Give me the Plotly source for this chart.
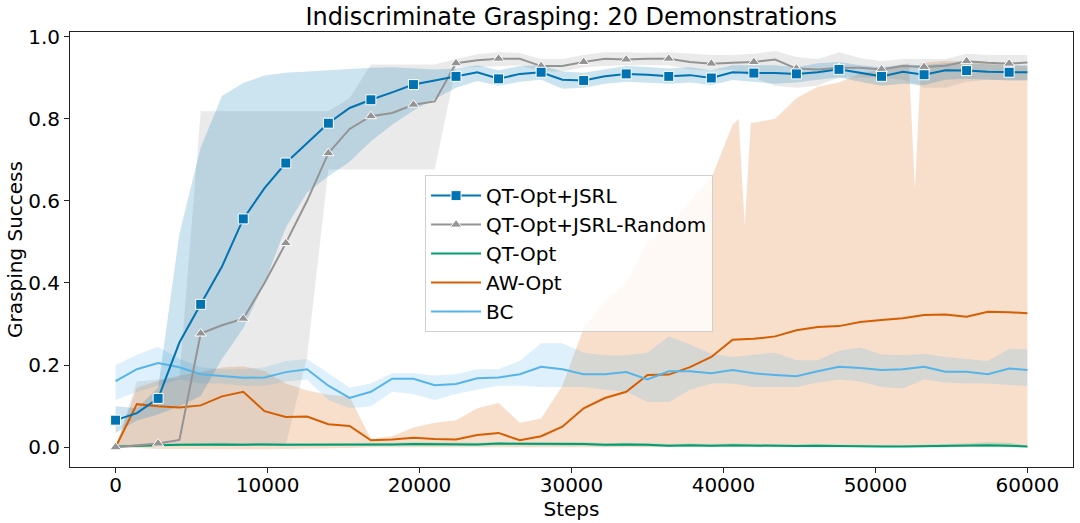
import plotly.graph_objects as go

# ---------------- data ----------------
steps = list(range(0, 58801, 1400)) + [60000]   # 44 evaluation steps

jsrl_mean = [0.066, 0.083, 0.119, 0.255, 0.348, 0.44, 0.556, 0.631, 0.692, 0.741, 0.789, 0.826,
             0.846, 0.864, 0.883, 0.893, 0.903, 0.913, 0.897, 0.909, 0.913, 0.895, 0.893, 0.903,
             0.909, 0.907, 0.903, 0.906, 0.899, 0.913, 0.911, 0.911, 0.909, 0.913, 0.920, 0.911,
             0.903, 0.914, 0.907, 0.918, 0.917, 0.914, 0.913, 0.913]
jsrl_lo = [0.035, 0.065, 0.08, 0.10, 0.125, 0.215, 0.29, 0.40, 0.535, 0.62, 0.66, 0.695,
           0.745, 0.785, 0.82, 0.848, 0.875, 0.892, 0.88, 0.89, 0.895, 0.873, 0.875, 0.885,
           0.89, 0.888, 0.885, 0.888, 0.882, 0.894, 0.89, 0.885, 0.888, 0.895, 0.9, 0.89,
           0.88, 0.885, 0.882, 0.895, 0.897, 0.895, 0.893, 0.893]
jsrl_hi = [0.10, 0.095, 0.145, 0.52, 0.73, 0.855, 0.887, 0.905, 0.912, 0.915, 0.918, 0.921,
           0.924, 0.925, 0.922, 0.92, 0.922, 0.93, 0.918, 0.928, 0.93, 0.915, 0.912, 0.92,
           0.928, 0.926, 0.922, 0.925, 0.918, 0.93, 0.93, 0.93, 0.925, 0.935, 0.938, 0.93,
           0.925, 0.932, 0.93, 0.935, 0.935, 0.932, 0.93, 0.93]

rand_mean = [0.0, 0.005, 0.009, 0.018, 0.277, 0.297, 0.313, 0.40, 0.497, 0.60, 0.716, 0.775,
             0.806, 0.814, 0.834, 0.842, 0.935, 0.942, 0.946, 0.946, 0.928, 0.928, 0.938, 0.946,
             0.944, 0.946, 0.946, 0.938, 0.934, 0.936, 0.938, 0.944, 0.922, 0.920, 0.924, 0.924,
             0.920, 0.928, 0.926, 0.929, 0.94, 0.936, 0.934, 0.937]
rand_lo = [0.0, 0.0, 0.002, 0.005, 0.005, 0.003, 0.003, 0.003, 0.005, 0.22, 0.676, 0.676,
           0.676, 0.676, 0.676, 0.676, 0.925, 0.925, 0.928, 0.93, 0.915, 0.915, 0.925, 0.928,
           0.93, 0.93, 0.93, 0.92, 0.918, 0.92, 0.90, 0.88, 0.875, 0.88, 0.90, 0.90,
           0.90, 0.895, 0.875, 0.875, 0.89, 0.895, 0.895, 0.895]
rand_hi = [0.0, 0.16, 0.165, 0.17, 0.818, 0.818, 0.818, 0.818, 0.818, 0.818, 0.818, 0.85,
           0.932, 0.932, 0.932, 0.932, 0.945, 0.957, 0.962, 0.96, 0.945, 0.945, 0.955, 0.962,
           0.962, 0.96, 0.962, 0.958, 0.955, 0.955, 0.958, 0.965, 0.95, 0.945, 0.962, 0.948,
           0.94, 0.945, 0.945, 0.945, 0.958, 0.955, 0.955, 0.955]

qt_mean = [0.002, 0.004, 0.005, 0.006, 0.007, 0.007, 0.006, 0.007, 0.006, 0.006, 0.007, 0.006,
           0.007, 0.007, 0.008, 0.008, 0.007, 0.007, 0.009, 0.009, 0.009, 0.008, 0.008, 0.006,
           0.007, 0.006, 0.004, 0.005, 0.004, 0.005, 0.004, 0.004, 0.003, 0.004, 0.003, 0.003,
           0.002, 0.002, 0.003, 0.003, 0.004, 0.005, 0.004, 0.002]
qt_lo = [0.0, 0.001, 0.002, 0.003, 0.004, 0.003, 0.002, 0.003, 0.002, 0.002, 0.003, 0.002,
         0.003, 0.003, 0.004, 0.004, 0.003, 0.003, 0.005, 0.005, 0.005, 0.004, 0.004, 0.002,
         0.003, 0.002, 0.001, 0.001, 0.001, 0.001, 0.001, 0.001, 0.0, 0.001, 0.0, 0.0,
         0.0, 0.0, 0.0, 0.0, 0.001, 0.001, 0.0, 0.0]
qt_hi = [0.004, 0.007, 0.008, 0.009, 0.011, 0.011, 0.01, 0.011, 0.01, 0.01, 0.011, 0.01,
         0.011, 0.011, 0.012, 0.012, 0.011, 0.011, 0.013, 0.013, 0.013, 0.012, 0.012, 0.01,
         0.011, 0.01, 0.008, 0.009, 0.008, 0.009, 0.008, 0.008, 0.007, 0.008, 0.006, 0.006,
         0.005, 0.005, 0.006, 0.007, 0.009, 0.012, 0.011, 0.004]

aw_mean = [0.0, 0.105, 0.10, 0.097, 0.102, 0.124, 0.135, 0.088, 0.074, 0.075, 0.056, 0.052,
           0.017, 0.019, 0.023, 0.02, 0.019, 0.03, 0.035, 0.017, 0.027, 0.05, 0.095, 0.12,
           0.135, 0.176, 0.177, 0.195, 0.22, 0.262, 0.264, 0.27, 0.285, 0.293, 0.295, 0.305,
           0.31, 0.314, 0.322, 0.323, 0.318, 0.33, 0.329, 0.326]
aw_band_steps = [0, 1400, 2800, 4200, 5600, 7000, 8400, 9800, 11200, 12600, 14000, 15400,
                 16800, 18200, 19600, 21000, 22400, 23800, 25200, 26600, 28000, 29400, 30800,
                 32200, 33600, 35000, 36400, 37800, 39200, 40600, 41000, 41400, 41800, 42000,
                 43400, 44800, 46200, 47600, 49000, 50400, 51800, 52200, 52600, 53000, 53200,
                 54600, 56000, 57400, 58800, 60000]
aw_lo = [0.0, -0.002, -0.004, -0.004, -0.004, -0.004, -0.005, -0.005, -0.004, -0.004, -0.003,
         -0.002, 0.0, 0.0, 0.0, 0.0, 0.0, 0.0, 0.0, 0.0, 0.0, 0.0, 0.0, 0.0, 0.0, 0.0, 0.0,
         0.0, 0.0, 0.0, 0.0, 0.0, 0.0, 0.0, 0.0, 0.0, 0.0, 0.0, 0.0, 0.0, 0.0, 0.0, 0.0, 0.0,
         0.0, 0.0, 0.0, 0.0, 0.0, 0.0]
aw_hi = [0.0, 0.145, 0.162, 0.175, 0.183, 0.194, 0.197, 0.186, 0.155, 0.138, 0.128, 0.123,
         0.02, 0.027, 0.048, 0.06, 0.066, 0.095, 0.108, 0.06, 0.07, 0.15, 0.29, 0.355, 0.40,
         0.50, 0.535, 0.60, 0.655, 0.785, 0.80, 0.54, 0.79, 0.79, 0.80, 0.85, 0.878, 0.888,
         0.91, 0.92, 0.932, 0.935, 0.63, 0.935, 0.937, 0.941, 0.94, 0.935, 0.93, 0.927]

bc_mean = [0.161, 0.19, 0.205, 0.195, 0.178, 0.174, 0.169, 0.17, 0.183, 0.19, 0.15, 0.12,
           0.135, 0.167, 0.167, 0.151, 0.154, 0.168, 0.17, 0.178, 0.196, 0.19, 0.178, 0.178,
           0.183, 0.165, 0.185, 0.185, 0.18, 0.188, 0.18, 0.176, 0.173, 0.185, 0.196, 0.193,
           0.188, 0.19, 0.196, 0.184, 0.184, 0.178, 0.192, 0.188]
bc_lo = [0.115, 0.135, 0.15, 0.165, 0.155, 0.155, 0.15, 0.15, 0.16, 0.165, 0.115, 0.095,
         0.10, 0.135, 0.13, 0.115, 0.13, 0.14, 0.15, 0.15, 0.147, 0.147, 0.147, 0.14,
         0.135, 0.11, 0.11, 0.14, 0.155, 0.155, 0.147, 0.147, 0.147, 0.158, 0.165, 0.16,
         0.147, 0.143, 0.165, 0.158, 0.155, 0.155, 0.152, 0.149]
bc_hi = [0.20, 0.225, 0.245, 0.215, 0.195, 0.19, 0.19, 0.195, 0.21, 0.215, 0.18, 0.145,
         0.155, 0.18, 0.18, 0.175, 0.178, 0.19, 0.19, 0.21, 0.253, 0.253, 0.23, 0.224,
         0.224, 0.23, 0.27, 0.25, 0.228, 0.22, 0.225, 0.23, 0.212, 0.212, 0.235, 0.243,
         0.226, 0.224, 0.228, 0.22, 0.215, 0.21, 0.24, 0.238]

series_names = ["QT-Opt+JSRL", "QT-Opt+JSRL-Random", "QT-Opt", "AW-Opt", "BC"]
x_ticks = [0, 10000, 20000, 30000, 40000, 50000, 60000]
y_ticks = [0.0, 0.2, 0.4, 0.6, 0.8, 1.0]

# ---------------- styling ----------------
FONT = "DejaVu Sans"
FS = 20
colors = {"QT-Opt+JSRL": "#0173b2", "QT-Opt+JSRL-Random": "#949494",
          "QT-Opt": "#029e73", "AW-Opt": "#d55e00", "BC": "#56b4e9"}


def rgba(hexc, a):
    h = hexc.lstrip("#")
    return "rgba(%d,%d,%d,%s)" % (int(h[0:2], 16), int(h[2:4], 16), int(h[4:6], 16), a)


series = {
    "QT-Opt+JSRL": (steps, jsrl_mean, steps, jsrl_lo, jsrl_hi),
    "QT-Opt+JSRL-Random": (steps, rand_mean, steps, rand_lo, rand_hi),
    "QT-Opt": (steps, qt_mean, steps, qt_lo, qt_hi),
    "AW-Opt": (steps, aw_mean, aw_band_steps, aw_lo, aw_hi),
    "BC": (steps, bc_mean, steps, bc_lo, bc_hi),
}
markers = {"QT-Opt+JSRL": ("square", 10), "QT-Opt+JSRL-Random": ("triangle-up", 10)}

fig = go.Figure()

# legend entries (in legend order)
for name in series_names:
    c = colors[name]
    if name in markers:
        sym, sz = markers[name]
        fig.add_trace(go.Scatter(x=[None], y=[None], mode="lines+markers", name=name,
                                 line=dict(color=c, width=2),
                                 marker=dict(symbol=sym, size=sz, color=c,
                                             line=dict(color="white", width=1))))
    else:
        fig.add_trace(go.Scatter(x=[None], y=[None], mode="lines", name=name,
                                 line=dict(color=c, width=2)))

draw_order = ["AW-Opt", "BC", "QT-Opt", "QT-Opt+JSRL-Random", "QT-Opt+JSRL"]

# confidence bands
for name in draw_order:
    xs, m, bx, lo, hi = series[name]
    fig.add_trace(go.Scatter(x=list(bx) + list(bx)[::-1], y=list(hi) + list(lo)[::-1],
                             fill="toself", fillcolor=rgba(colors[name], 0.2),
                             line=dict(width=0), mode="lines", showlegend=False,
                             hoverinfo="skip"))

# mean lines
for name in draw_order:
    xs, m, bx, lo, hi = series[name]
    fig.add_trace(go.Scatter(x=xs, y=m, mode="lines", showlegend=False,
                             line=dict(color=colors[name], width=2)))

# markers every 2800 steps
for name in ["QT-Opt+JSRL-Random", "QT-Opt+JSRL"]:
    xs, m, bx, lo, hi = series[name]
    sym, sz = markers[name]
    fig.add_trace(go.Scatter(x=xs[0:43:2], y=m[0:43:2], mode="markers", showlegend=False,
                             marker=dict(symbol=sym, size=sz, color=colors[name],
                                         line=dict(color="white", width=1))))

axis_common = dict(showline=True, mirror=True, linecolor="#222222", linewidth=1,
                   ticks="outside", ticklen=5, tickwidth=1, tickcolor="#222222",
                   showgrid=False, zeroline=False,
                   tickfont=dict(family=FONT, size=FS, color="black"))

fig.update_layout(
    width=1080, height=523,
    margin=dict(l=70, r=7, t=32, b=56, autoexpand=False),
    paper_bgcolor="white", plot_bgcolor="white",
    font=dict(family=FONT, size=FS, color="black"),
    title=dict(text="Indiscriminate Grasping: 20 Demonstrations", x=0.529, xanchor="center",
               y=1 - 17 / 523, yanchor="middle", yref="container",
               font=dict(family=FONT, size=24, color="black")),
    xaxis=dict(range=[-3000, 63000], tickvals=x_ticks, ticktext=[str(v) for v in x_ticks],
               ticklabelstandoff=-5,
               title=dict(text="Steps", standoff=4,
                          font=dict(family=FONT, size=FS, color="black")),
               **axis_common),
    yaxis=dict(range=[-0.048, 1.011], tickvals=y_ticks,
               ticktext=["%.1f" % v for v in y_ticks],
               title=dict(text="Grasping Success", standoff=0,
                          font=dict(family=FONT, size=FS, color="black")),
               **axis_common),
    legend=dict(x=0.354, y=0.671, xanchor="left", yanchor="top",
                bgcolor="rgba(255,255,255,0.8)", bordercolor="#d0d0d0", borderwidth=1,
                font=dict(family=FONT, size=FS, color="black"),
                itemwidth=50),
    showlegend=True,
)

fig.write_html("out.html", config={"displayModeBar": False},
               post_script="document.body.style.margin='0';document.body.style.overflow='hidden';")
